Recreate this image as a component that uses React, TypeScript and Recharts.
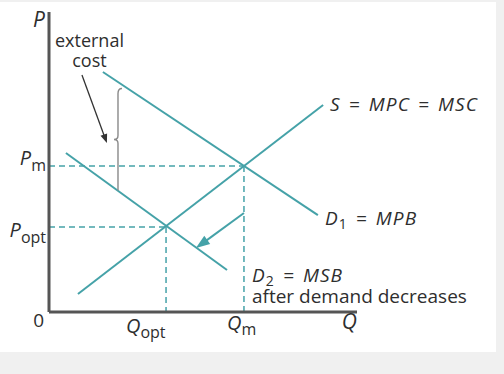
import React from 'react';
import { ComposedChart, Line, XAxis, YAxis, ReferenceLine, ReferenceDot } from 'recharts';

// Curves (Q, P) in chart units
const supplyQ = [9.4, 89.0];
const supplyP = [6, 69];
const mpbQ = [17.5, 87.3];
const mpbP = [80, 32.3];
const msbQ = [5.5, 57.8];
const msbP = [53, 14];

// Equilibria / tick values
const qTickValues = [38, 63.3];
const qTickSubs = ['opt', 'm'];
const pTickValues = [28.3, 48.7];
const pTickSubs = ['opt', 'm'];

// External cost brace and arrows
const braceQ = [22.4, 22.4];
const braceP = [74.5, 40.5];
const costArrowQ = [10.7, 18.8];
const costArrowP = [79, 56.3];
const shiftArrowQ = [63.3, 47.7];
const shiftArrowP = [33, 21.3];

const curveLabels = ['S = MPC = MSC', 'MPB', 'MSB', 'after demand decreases'];

const TEAL = '#45a2a8';
const TEXT = '#2e2e2e';
const AXIS = '#555555';
const FONT = '"Open Sans", sans-serif';

const toPoints = (qs: number[], ps: number[]) => qs.map((q, i) => ({ q, p: ps[i] }));

const arrowHead = (x1: number, y1: number, x2: number, y2: number, len: number, half: number) => {
  const dx = x2 - x1;
  const dy = y2 - y1;
  const d = Math.sqrt(dx * dx + dy * dy) || 1;
  const ux = dx / d;
  const uy = dy / d;
  const bx = x2 - ux * len;
  const by = y2 - uy * len;
  return `${x2},${y2} ${bx - uy * half},${by + ux * half} ${bx + uy * half},${by - ux * half}`;
};

const ArrowShape = (color: string, width: number, len: number, half: number) => (props: any) => {
  const { x1, y1, x2, y2 } = props;
  const d = Math.sqrt((x2 - x1) ** 2 + (y2 - y1) ** 2) || 1;
  const ex = x2 - ((x2 - x1) / d) * (len * 0.7);
  const ey = y2 - ((y2 - y1) / d) * (len * 0.7);
  return (
    <g>
      <line x1={x1} y1={y1} x2={ex} y2={ey} stroke={color} strokeWidth={width} />
      <polygon points={arrowHead(x1, y1, x2, y2, len, half)} fill={color} />
    </g>
  );
};

const BraceShape = (props: any) => {
  const { x1, y1, y2 } = props;
  const top = Math.min(y1, y2);
  const bot = Math.max(y1, y2);
  const mid = (top + bot) / 2;
  const x = x1;
  const w = 4;
  const path = `M ${x + w} ${top} Q ${x} ${top} ${x} ${top + 5} L ${x} ${mid - 4} Q ${x} ${mid} ${x - w} ${mid} Q ${x} ${mid} ${x} ${mid + 4} L ${x} ${bot}`;
  return <path d={path} fill="none" stroke="#8a8a8a" strokeWidth={1.4} />;
};

type LabelLine = { dx: number; dy: number; node: React.ReactNode; anchor?: string; size?: number; eq?: boolean };

const textLabel = (lines: LabelLine[]) => (props: any) => {
  const { cx, cy } = props;
  return (
    <g>
      {lines.map((l, i) => (
        <text
          key={i}
          x={cx + l.dx}
          y={cy + l.dy}
          textAnchor={l.anchor || 'start'}
          fill={TEXT}
          fontFamily={FONT}
          fontWeight={500}
          fontSize={l.size || 18}
          letterSpacing={l.eq ? 1.1 : 0}
          wordSpacing={l.eq ? 2 : 0}
        >
          {l.node}
        </text>
      ))}
    </g>
  );
};

const subLabel = (main: string, sub: string, subDy: number) => (
  <>
    <tspan fontStyle="italic" fontSize={20}>{main}</tspan>
    <tspan fontSize={16} dy={subDy}>{sub}</tspan>
  </>
);

const dashed = { stroke: TEAL, strokeWidth: 1.5, strokeDasharray: '6 4' };

export default function App() {
  return (
    <div style={{ position: 'absolute', left: 0, top: 0, width: 504, height: 374, background: '#f0f0f0' }}>
      <div style={{ position: 'absolute', left: 0, top: 2, width: 496, height: 350, background: '#ffffff' }} />
      <div style={{ position: 'absolute', left: 0, top: 0 }}>
        <ComposedChart width={504} height={374} margin={{ top: 12, right: 147, bottom: 62, left: 49 }}>
          <XAxis dataKey="q" type="number" domain={[0, 100]} hide allowDataOverflow />
          <YAxis type="number" domain={[0, 100]} hide allowDataOverflow />

          {/* dashed guide lines */}
          <ReferenceLine segment={[{ x: 0, y: pTickValues[1] }, { x: qTickValues[1], y: pTickValues[1] }]} {...dashed} />
          <ReferenceLine segment={[{ x: qTickValues[1], y: pTickValues[1] }, { x: qTickValues[1], y: 0 }]} {...dashed} />
          <ReferenceLine segment={[{ x: 0, y: pTickValues[0] }, { x: qTickValues[0], y: pTickValues[0] }]} {...dashed} />
          <ReferenceLine segment={[{ x: qTickValues[0], y: pTickValues[0] }, { x: qTickValues[0], y: 0 }]} {...dashed} />

          {/* curves */}
          <Line data={toPoints(supplyQ, supplyP)} dataKey="p" stroke={TEAL} strokeWidth={2} dot={false} isAnimationActive={false} />
          <Line data={toPoints(mpbQ, mpbP)} dataKey="p" stroke={TEAL} strokeWidth={2} dot={false} isAnimationActive={false} />
          <Line data={toPoints(msbQ, msbP)} dataKey="p" stroke={TEAL} strokeWidth={2} dot={false} isAnimationActive={false} />

          {/* axes */}
          <ReferenceLine segment={[{ x: 0, y: 0 }, { x: 0, y: 100 }]} stroke={AXIS} strokeWidth={3} />
          <ReferenceLine segment={[{ x: 0, y: 0 }, { x: 100, y: 0 }]} stroke={AXIS} strokeWidth={3} />

          {/* brace and arrows */}
          <ReferenceLine segment={[{ x: braceQ[0], y: braceP[0] }, { x: braceQ[1], y: braceP[1] }]} shape={BraceShape} />
          <ReferenceLine
            segment={[{ x: costArrowQ[0], y: costArrowP[0] }, { x: costArrowQ[1], y: costArrowP[1] }]}
            shape={ArrowShape('#333333', 1.3, 9, 3.5)}
          />
          <ReferenceLine
            segment={[{ x: shiftArrowQ[0], y: shiftArrowP[0] }, { x: shiftArrowQ[1], y: shiftArrowP[1] }]}
            shape={ArrowShape(TEAL, 2, 14, 5)}
          />

          {/* tick labels */}
          <ReferenceDot x={0} y={pTickValues[1]} r={0} shape={textLabel([{ dx: -3, dy: -1, anchor: 'end', node: subLabel('P', pTickSubs[1], 6) }])} />
          <ReferenceDot x={0} y={pTickValues[0]} r={0} shape={textLabel([{ dx: -3, dy: 10, anchor: 'end', node: subLabel('P', pTickSubs[0], 6) }])} />
          <ReferenceDot x={qTickValues[0]} y={0} r={0} shape={textLabel([{ dx: -40, dy: 21, node: subLabel('Q', qTickSubs[0], 5) }])} />
          <ReferenceDot x={qTickValues[1]} y={0} r={0} shape={textLabel([{ dx: -17, dy: 18, node: subLabel('Q', qTickSubs[1], 5) }])} />

          {/* axis titles */}
          <ReferenceDot x={0} y={100} r={0} shape={textLabel([{ dx: -4, dy: 15, anchor: 'end', size: 21, node: <tspan fontStyle="italic">P</tspan> }])} />
          <ReferenceDot x={0} y={0} r={0} shape={textLabel([{ dx: -5, dy: 15, anchor: 'end', size: 19, node: '0' }])} />
          <ReferenceDot x={100} y={0} r={0} shape={textLabel([{ dx: 0, dy: 17, anchor: 'end', size: 21, node: <tspan fontStyle="italic">Q</tspan> }])} />

          {/* annotations */}
          <ReferenceDot
            x={costArrowQ[0]}
            y={costArrowP[0]}
            r={0}
            shape={textLabel([
              { dx: 7.5, dy: -28, anchor: 'middle', node: 'external' },
              { dx: 7.5, dy: -8, anchor: 'middle', node: 'cost' },
            ])}
          />
          <ReferenceDot
            x={supplyQ[1]}
            y={supplyP[1]}
            r={0}
            shape={textLabel([{ dx: 7, dy: 6, size: 19, eq: true, node: <tspan fontStyle="italic">{curveLabels[0]}</tspan> }])}
          />
          <ReferenceDot
            x={mpbQ[1]}
            y={mpbP[1]}
            r={0}
            shape={textLabel([
              {
                dx: 7,
                dy: 10,
                size: 19,
                eq: true,
                node: (
                  <>
                    <tspan fontStyle="italic">D</tspan>
                    <tspan fontSize={14} dy={4}>1</tspan>
                    <tspan fontStyle="italic" dy={-4}>{' = ' + curveLabels[1]}</tspan>
                  </>
                ),
              },
            ])}
          />
          <ReferenceDot
            x={qTickValues[1]}
            y={0}
            r={0}
            shape={textLabel([
              {
                dx: 8,
                dy: -30,
                size: 19,
                eq: true,
                node: (
                  <>
                    <tspan fontStyle="italic">D</tspan>
                    <tspan fontSize={14} dy={4}>2</tspan>
                    <tspan fontStyle="italic" dy={-4}>{' = ' + curveLabels[2]}</tspan>
                  </>
                ),
              },
              { dx: 8, dy: -9, size: 19, node: curveLabels[3] },
            ])}
          />
        </ComposedChart>
      </div>
    </div>
  );
}
